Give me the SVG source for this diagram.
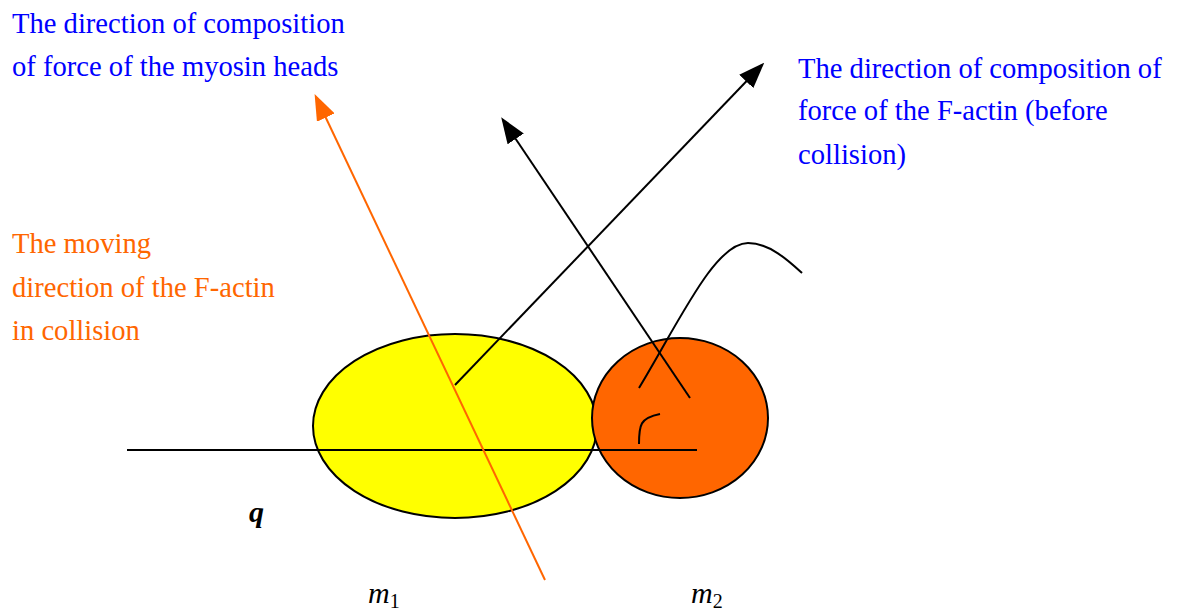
<svg xmlns="http://www.w3.org/2000/svg" width="1181" height="614" viewBox="0 0 1181 614">
<style>
.t{font-family:"Liberation Serif","Times New Roman",serif;font-size:28.6px}
.blue{fill:#0000FF}
.org{fill:#FF6600}
.ln{fill:none;stroke:#000;stroke-width:2}
.m{font-family:"Liberation Serif","Times New Roman",serif;font-style:italic;font-size:30px;fill:#000}
</style>
<defs>
<marker id="ahB" markerUnits="userSpaceOnUse" markerWidth="26" markerHeight="20" viewBox="0 0 24 18" refX="21" refY="9" orient="auto"><path d="M0,0 L24,9 L0,18 z" fill="#000"/></marker>
<marker id="ahO" markerUnits="userSpaceOnUse" markerWidth="26" markerHeight="20" viewBox="0 0 24 18" refX="21" refY="9" orient="auto"><path d="M0,0 L24,9 L0,18 z" fill="#FF6600"/></marker>
</defs>
<g id="node-m1"><ellipse cx="455" cy="426" rx="142" ry="92" fill="#FFFF00" stroke="#000" stroke-width="2"/></g>
<g id="node-m2"><ellipse cx="680" cy="418" rx="88" ry="80" fill="#FF6600" stroke="#000" stroke-width="2"/></g>
<g id="connectors">
<line x1="127" y1="450" x2="697" y2="450" class="ln"/>
<line x1="545" y1="580" x2="316" y2="97" stroke="#FF6600" stroke-width="2" marker-end="url(#ahO)"/>
<line x1="455" y1="385" x2="762" y2="65" class="ln" marker-end="url(#ahB)"/>
<line x1="690" y1="398" x2="503" y2="120" class="ln" marker-end="url(#ahB)"/>
<path d="M639,388 C680,320 715,243 748,243 C770,243 790,262 802,273" class="ln"/>
<path d="M639,444 C639,425 640,418 660,414" class="ln"/>
</g>
<g id="label-myosin" class="t blue">
<text x="12" y="33">The direction of composition</text>
<text x="12" y="76">of force of the myosin heads</text>
</g>
<g id="label-factin" class="t blue">
<text x="798" y="78">The direction of composition of</text>
<text x="798" y="120">force of the F-actin (before</text>
<text x="798" y="164">collision)</text>
</g>
<g id="label-moving" class="t org">
<text x="12" y="253">The moving</text>
<text x="12" y="297">direction of the F-actin</text>
<text x="12" y="340">in collision</text>
</g>
<g id="label-q"><text x="249" y="522" class="m" font-weight="bold">q</text></g>
<g id="label-m1"><text x="368" y="603" class="m">m<tspan font-size="20" font-style="normal" dy="5">1</tspan></text></g>
<g id="label-m2"><text x="691" y="603" class="m">m<tspan font-size="20" font-style="normal" dy="5">2</tspan></text></g>
</svg>
